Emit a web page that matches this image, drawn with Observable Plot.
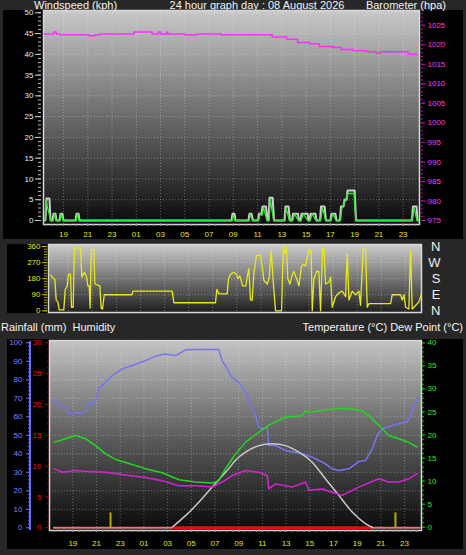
<!DOCTYPE html>
<html><head><meta charset="utf-8">
<script src="https://cdn.jsdelivr.net/npm/d3@7"></script>
<script src="https://cdn.jsdelivr.net/npm/@observablehq/plot@0.6"></script>
<style>
body{margin:0;background:#272727}
#root{position:relative;width:466px;height:555px;background:#272727;overflow:hidden;font-family:"Liberation Sans",Arial,sans-serif;color:#fff}
.panel{position:absolute;background:#000}
.t{position:absolute;color:#f4f4f4;font-size:11px;line-height:11px;white-space:pre}
</style></head>
<body>
<div id="root">
<svg width="0" height="0" style="position:absolute"><defs>
<linearGradient id="gradTop" x1="0" y1="0" x2="0" y2="1"><stop offset="0" stop-color="#c8c8c8"/><stop offset="0.5" stop-color="#6a6a6a"/><stop offset="1" stop-color="#0a0a0a"/></linearGradient>
<linearGradient id="gradMid" x1="0" y1="0" x2="0" y2="1"><stop offset="0" stop-color="#cdcdcd"/><stop offset="1" stop-color="#1e1e1e"/></linearGradient>
<linearGradient id="gradBot" x1="0" y1="0" x2="0" y2="1"><stop offset="0" stop-color="#c4c4c4"/><stop offset="0.5" stop-color="#5e5e5e"/><stop offset="1" stop-color="#0a0a0a"/></linearGradient>
</defs></svg>
<div class="panel" style="left:3px;top:10px;width:460px;height:229px"></div>
<div class="panel" style="left:7px;top:244px;width:414px;height:69px"></div>
<div class="panel" style="left:7px;top:339px;width:456px;height:210px"></div>
<div class="t" style="left:34px;top:0px">Windspeed (kph)</div>
<div class="t" style="left:257px;top:0px;transform:translateX(-50%)">24 hour graph day : 08 August 2026</div>
<div class="t" style="right:20px;top:0px">Barometer (hpa)</div>
<div class="t" style="left:1px;top:322px">Rainfall (mm)  Humidity</div>
<div class="t" style="right:3px;top:322px">Temperature (°C) Dew Point (°C)</div>
<div style="position:absolute;left:29px;top:341px;width:2px;height:189px;background:#6c6cff"></div>
</div>
<script>
// ---- time axis (hours relative to midnight of 08 Aug) ----
const hourTicks = [-5,-3,-1,1,3,5,7,9,11,13,15,17,19,21,23];
const halfHours = d3.range(-6.5, 24.5, 0.5);
const hourLabel = h => String((h + 24) % 24).padStart(2, "0");

// ---- wind speed (kph) ----
const gustT = [-6.53,-6.49,-6.40,-6.16,-6.07,-5.91,-5.83,-5.66,-5.58,-5.33,-5.25,-5.09,-5.00,-4.01,-3.93,-3.76,-3.68,
  8.85,8.93,9.10,9.18,10.25,10.33,10.50,10.62,11.03,11.12,11.32,11.41,11.69,11.82,11.90,11.99,12.24,12.36,
  13.22,13.30,13.55,13.67,13.84,13.92,14.33,14.41,14.54,14.62,15.12,15.20,15.28,15.36,15.78,15.86,
  16.15,16.23,16.52,16.64,17.01,17.09,17.42,17.51,17.79,17.88,18.09,18.17,18.34,18.42,19.00,19.12,
  23.73,23.81,24.10,24.19,24.25];
const gustV = [0,0,5.3,5.3,0,0,1.6,1.6,0,0,1.6,1.6,0,0,1.6,1.6,0,
  0,1.6,1.6,0,0,1.6,1.6,0,0,1.6,1.6,3.4,3.4,0,0,5.5,5.5,0,
  0,3.4,3.4,0,0,1.6,1.6,0,0,1.6,1.6,0,0,1.6,1.6,0,
  0,3.4,3.4,0,0,1.6,1.6,0,0,3.4,3.4,5.0,5.0,7.2,7.2,0,
  0,3.4,3.4,0,0];
const avgT = [-6.53,-6.45,-6.05,-5.85,-5.75,-5.62,-5.28,-5.18,-5.04,-3.96,-3.86,-3.72,
  8.90,9.00,9.15,10.30,10.40,10.58,11.08,11.20,11.35,11.50,11.78,11.95,12.05,12.32,
  13.26,13.36,13.62,13.90,14.05,14.20,14.36,14.60,14.75,14.95,15.15,15.33,15.50,15.65,15.82,
  16.20,16.35,16.45,16.60,17.05,17.20,17.46,17.84,17.95,18.20,18.45,18.95,19.10,
  23.76,23.90,24.15,24.25];
const avgV = [0,4.8,0,0,1.6,0,0,1.6,0,0,1.6,0,
  0,1.2,0,0,1.6,0,0,1.6,1.2,3.0,0,0,5.2,0,
  0,3.0,0,0,1.6,0.8,0,0,1.6,0.8,0,0,1.6,0.8,0,
  0,3.0,2.0,0,0,1.6,0,0,3.0,4.5,6.5,6.5,0,
  0,3.0,0,0];
const windTicks = [0,5,10,15,20,25,30,35,40,45,50];

// ---- barometer (hPa) ----
const baroT = [-6.6,-5.9,-5.8,-5.6,-5.3,-3.0,-2.9,-2.4,-2.0,0.7,0.8,2.2,2.3,2.7,2.8,3.0,3.5,3.6,5.0,6.0,8.0,
  11.8,12.2,13.0,13.4,14.3,15.3,16.1,17.2,17.9,18.9,20.0,20.8,21.1,23.2,23.4,24.2];
const baroV = [1022.8,1022.8,1023.3,1022.8,1022.6,1022.6,1022.3,1022.6,1022.8,1022.8,1023.3,1023.3,1022.8,1022.8,1023.3,1022.8,1023.3,1022.8,1022.6,1022.8,1022.6,
  1022.6,1022.0,1022.0,1021.4,1020.6,1020.3,1019.6,1019.3,1018.8,1018.5,1018.2,1017.8,1018.2,1018.2,1017.6,1017.5];
const baroTicks = [975,980,985,990,995,1000,1005,1010,1015,1020,1025];

// ---- wind direction (degrees) ----
const dirT = [-6.48,-6.26,-6.12,-6.01,-5.87,-5.76,-5.38,-5.26,-5.10,-4.99,-4.82,-4.74,-4.60,-4.49,-3.99,-3.88,-3.66,-3.49,-3.38,-3.27,-3.19,-3.10,-2.88,-2.80,-2.38,-2.27,-2.16,-2.02,
  0.30,0.36,3.63,3.77,7.23,7.34,7.51,8.20,8.31,8.48,8.76,8.98,9.09,9.25,9.37,9.48,9.75,9.86,10.00,10.14,10.28,10.42,10.64,10.97,11.11,11.25,11.53,11.69,11.86,12.03,12.22,12.72,12.86,13.00,13.13,13.24,13.41,13.60,13.74,13.97,14.16,14.38,14.52,14.71,14.85,14.99,15.18,15.27,15.41,15.63,15.82,15.96,16.13,16.24,16.38,16.65,16.79,16.93,17.21,17.48,17.76,18.04,18.18,18.32,18.59,18.87,19.15,19.28,19.51,19.70,19.84,19.98,21.78,21.92,22.61,22.75,22.89,23.03,23.30,23.44,23.58,23.86,24.13,24.33];
const dirV = [201,183,175,60,50,5,5,120,135,205,205,20,20,350,352,190,215,190,140,140,15,340,345,150,140,15,10,90,
  90,110,110,45,45,120,95,95,180,205,215,205,180,195,170,140,140,190,235,60,60,210,310,310,250,170,150,185,340,160,0,0,360,320,360,180,150,200,220,180,140,250,260,250,300,340,340,0,180,220,220,0,350,350,150,160,190,20,80,100,110,80,320,60,110,90,110,30,350,350,20,40,40,90,90,60,90,20,10,340,10,30,50,90];
const dirTicks = [0,90,180,270,360];
const compassDeg = [360,270,180,90,0];
const compassLab = ["N","W","S","E","N"];

// ---- humidity (%) ----
const humT = [-6.60,-6.18,-5.62,-5.34,-4.77,-4.35,-3.93,-3.65,-3.36,-3.08,-2.81,-2.24,-1.68,-0.83,0.01,1.14,1.98,2.82,3.67,4.51,5.35,7.32,7.61,8.03,8.45,9.01,9.57,10.00,10.42,10.70,10.98,11.41,11.54,12.11,12.95,14.36,15.20,16.32,16.89,17.45,18.29,19.14,19.70,20.27,20.69,21.11,21.95,22.51,23.22,23.50,23.78,24.20];
const humV = [69.4,66.1,65.2,61.6,62.5,61.6,63.4,67.9,66.5,69.7,75.1,78.7,82.3,85.9,87.7,90.4,92.8,94.0,93.1,96.2,96.4,96.4,90.4,85.9,81.0,78.7,73.3,66.1,60.7,54.4,53.5,54.4,44.5,44.5,41.8,40.0,38.2,34.6,31.9,31.0,31.9,35.8,36.4,42.7,49.9,53.5,55.3,56.2,57.1,60.7,66.1,70.6];
const humTicks = [0,10,20,30,40,50,60,70,80,90,100];

// ---- temperature / dew point / solar (°C scale) ----
const tempT = [-6.60,-5.62,-4.77,-3.93,-3.08,-2.24,-1.40,-0.27,1.14,2.54,3.95,5.35,6.76,7.32,7.89,8.45,8.73,9.57,10.70,11.54,12.95,14.36,14.64,14.92,16.32,18.01,19.42,19.98,20.82,21.67,22.51,23.35,24.06];
const tempV = [18.4,19.2,19.9,19.2,17.7,15.9,14.7,13.8,12.7,11.8,10.3,9.8,9.6,10.1,12.7,14.8,15.9,18.4,20.6,22.1,23.9,24.2,25.3,24.9,25.5,25.8,25.3,24.2,22.1,19.9,19.2,18.4,17.4];
const dewT = [-6.60,-5.89,-4.77,-3.65,-2.24,-0.27,1.14,2.54,3.95,5.35,6.76,7.61,8.45,9.57,10.70,11.41,11.54,12.11,13.52,14.64,14.92,16.04,16.89,17.73,19.14,20.82,21.67,22.51,23.35,24.06];
const dewV = [12.7,11.9,12.3,12.1,11.9,11.2,10.8,10.1,9.0,9.0,8.7,9.8,11.2,12.3,11.9,11.2,8.3,9.4,8.7,9.8,8.0,8.3,7.6,6.9,8.7,10.5,9.8,9.8,10.5,11.6];
const solarT = [3.39,4.51,5.63,6.76,7.89,8.73,9.57,10.70,11.83,12.95,14.07,15.20,16.32,17.45,18.58,19.70,20.27];
const solarV = [0,2.5,5.4,8.7,11.9,14.5,16.3,17.7,18.1,17.7,16.3,14.1,10.5,6.9,3.3,0.8,0];
const tempTicks = [0,5,10,15,20,25,30,35,40];

// ---- rainfall (mm) ----
const rainTotalT = [-6.6, 24.3];
const rainTotalV = [0, 0];
const daylightT = [3.39, 20.27];
const rainBarT = [-1.82, 22.23];
const rainBarV = [2.4, 2.4];
const rainTicks = [0,5,10,15,20,25,30];

const zip = (t, v) => t.map((x, i) => ({t: x, v: v[i]}));
const root = document.getElementById("root");
const FONT = "'Liberation Sans',Arial,sans-serif";
const fmt = d => String(d);
function layer(o) {
  const el = Plot.plot(Object.assign({
    width: 466, height: 555,
    style: {position: "absolute", left: "0px", top: "0px", background: "transparent", overflow: "visible", fontFamily: FONT, color: "#fff"}
  }, o));
  root.appendChild(el);
}
const grid = {stroke: "#fff", strokeOpacity: 0.3, strokeDasharray: "1,2"};
const xLabels = {anchor: "bottom", ticks: hourTicks, tickFormat: hourLabel, tickSize: 2, fill: "#e6e600", stroke: "#999", fontSize: 8, label: null};
const xMinor = {anchor: "bottom", ticks: halfHours, tickFormat: () => "", tickSize: 2, stroke: "#999", label: null};

// ===== top panel: wind speed =====
const topM = {marginTop: 10, marginBottom: 331, marginLeft: 43, marginRight: 47};
const xTop = {domain: [-6.65, 24.35], axis: null, label: null};
layer({...topM, x: xTop,
  y: {domain: [0, 50], range: [220, 12.3], axis: null, label: null},
  marks: [
    Plot.frame({fill: "url(#gradTop)", stroke: "#d8d8d8", strokeWidth: 1.5}),
    Plot.gridY({ticks: windTicks.slice(1), ...grid}),
    Plot.gridX({ticks: hourTicks, ...grid}),
    Plot.line(zip(gustT, gustV), {x: "t", y: "v", stroke: "#cfcfcf", strokeWidth: 2}),
    Plot.line(zip(avgT, avgV), {x: "t", y: "v", stroke: "#2ee82e", strokeWidth: 1.3}),
    Plot.axisY({anchor: "left", ticks: windTicks, tickSize: 6, tickPadding: 2, dx: -2, fill: "#e4ecff", stroke: "#ddd", fontSize: 8, tickFormat: fmt, label: null}),
    Plot.axisY({anchor: "left", ticks: d3.range(0, 51), tickSize: 3, dx: -2, stroke: "#bbb", tickFormat: () => "", label: null}),
    Plot.axisX({...xLabels, tickPadding: 5}),
    Plot.axisX(xMinor)
  ]});
// barometer overlay
layer({...topM, x: xTop,
  y: {domain: [975, 1028.2], range: [220, 12.3], axis: null, label: null},
  marks: [
    Plot.line(zip(baroT, baroV), {x: "t", y: "v", stroke: "#ff2cff", strokeWidth: 1.5, curve: "step-after"}),
    Plot.axisY({anchor: "right", ticks: baroTicks, tickSize: 4, tickPadding: 3, dx: 1, fill: "#ff33ff", stroke: "#e000e0", fontSize: 8, tickFormat: fmt, label: null}),
    Plot.axisY({anchor: "right", ticks: d3.range(975, 1029), tickSize: 2, dx: 1, stroke: "#c000c0", tickFormat: () => "", label: null})
  ]});

// ===== middle panel: wind direction =====
layer({marginTop: 244, marginBottom: 243, marginLeft: 48, marginRight: 45,
  x: {domain: [-6.65, 24.35], axis: null, label: null},
  y: {domain: [0, 360], range: [310.3, 246], axis: null, label: null},
  marks: [
    Plot.frame({fill: "url(#gradMid)", stroke: "#d8d8d8", strokeWidth: 1.5}),
    Plot.gridY({ticks: [90, 180, 270], ...grid}),
    Plot.gridX({ticks: hourTicks, ...grid}),
    Plot.line(zip(dirT, dirV), {x: "t", y: "v", stroke: "#e8e81e", strokeWidth: 1.3}),
    Plot.axisY({anchor: "left", ticks: dirTicks, tickSize: 5, tickPadding: 2, dx: -1, fill: "#e8e800", stroke: "#c8c800", fontSize: 8, tickFormat: fmt, label: null}),
    Plot.axisY({anchor: "left", ticks: d3.range(0, 361, 15), tickSize: 3, dx: -1, stroke: "#a8a800", tickFormat: () => "", label: null}),
    Plot.text(compassDeg, {y: d => d, text: (d, i) => compassLab[i], frameAnchor: "right", dx: 19, fill: "#f0f0f0", fontSize: 13})
  ]});

// ===== bottom panel =====
const botM = {marginTop: 340, marginBottom: 25, marginLeft: 49, marginRight: 45};
const xBot = {domain: [-6.97, 24.43], axis: null, label: null};
// humidity
layer({...botM, x: xBot,
  y: {domain: [0, 100], range: [527.3, 342.3], axis: null, label: null},
  marks: [
    Plot.frame({fill: "url(#gradBot)", stroke: "#d8d8d8", strokeWidth: 1.5}),
    Plot.gridY({ticks: humTicks.slice(1, 10), ...grid}),
    Plot.gridX({ticks: hourTicks, ...grid}),
    Plot.line(zip(humT, humV), {x: "t", y: "v", stroke: "#7474f4", strokeWidth: 1.5}),
    Plot.axisY({anchor: "left", ticks: humTicks, tickSize: 4, tickPadding: 4, dx: -19, fill: "#8484ff", stroke: "#6c6cff", fontSize: 8, tickFormat: fmt, label: null}),
    Plot.axisY({anchor: "left", ticks: d3.range(0, 101, 2), tickSize: 2, dx: -19, stroke: "#6c6cff", tickFormat: () => "", label: null}),
    Plot.axisX({...xLabels, tickPadding: 8}),
    Plot.axisX(xMinor)
  ]});
// rainfall
layer({...botM, x: xBot,
  y: {domain: [0, 30], range: [527.3, 342.3], axis: null, label: null},
  marks: [
    Plot.line(zip(rainTotalT, rainTotalV), {x: "t", y: "v", stroke: "#e07a7a", strokeWidth: 2}),
    Plot.ruleY([0], {x1: daylightT[0], x2: daylightT[1], stroke: "#ff0000", strokeWidth: 2.5}),
    Plot.ruleX(zip(rainBarT, rainBarV), {x: "t", y1: 0, y2: "v", stroke: "#b8a800", strokeWidth: 2}),
    Plot.axisY({anchor: "left", ticks: rainTicks, tickSize: 4, tickPadding: 4, fill: "#ff0000", stroke: "#a00000", fontSize: 8, tickFormat: fmt, label: null}),
    Plot.axisY({anchor: "left", ticks: d3.range(0, 31), tickSize: 2, stroke: "#a00000", tickFormat: () => "", label: null})
  ]});
// temperature, dew point, solar
layer({...botM, x: xBot,
  y: {domain: [0, 40], range: [526.7, 342.3], axis: null, label: null},
  marks: [
    Plot.line(zip(solarT, solarV), {x: "t", y: "v", stroke: "#c8c8c8", strokeWidth: 1.5, curve: "natural"}),
    Plot.line(zip(dewT, dewV), {x: "t", y: "v", stroke: "#d822d8", strokeWidth: 1.5}),
    Plot.line(zip(tempT, tempV), {x: "t", y: "v", stroke: "#22d822", strokeWidth: 1.5}),
    Plot.axisY({anchor: "right", ticks: tempTicks, tickSize: 3, tickPadding: 3, fill: "#22ee22", stroke: "#00c800", fontSize: 8, tickFormat: fmt, label: null}),
    Plot.axisY({anchor: "right", ticks: d3.range(0, 41), tickSize: 2, stroke: "#00c800", tickFormat: () => "", label: null})
  ]});
</script>
</body></html>
